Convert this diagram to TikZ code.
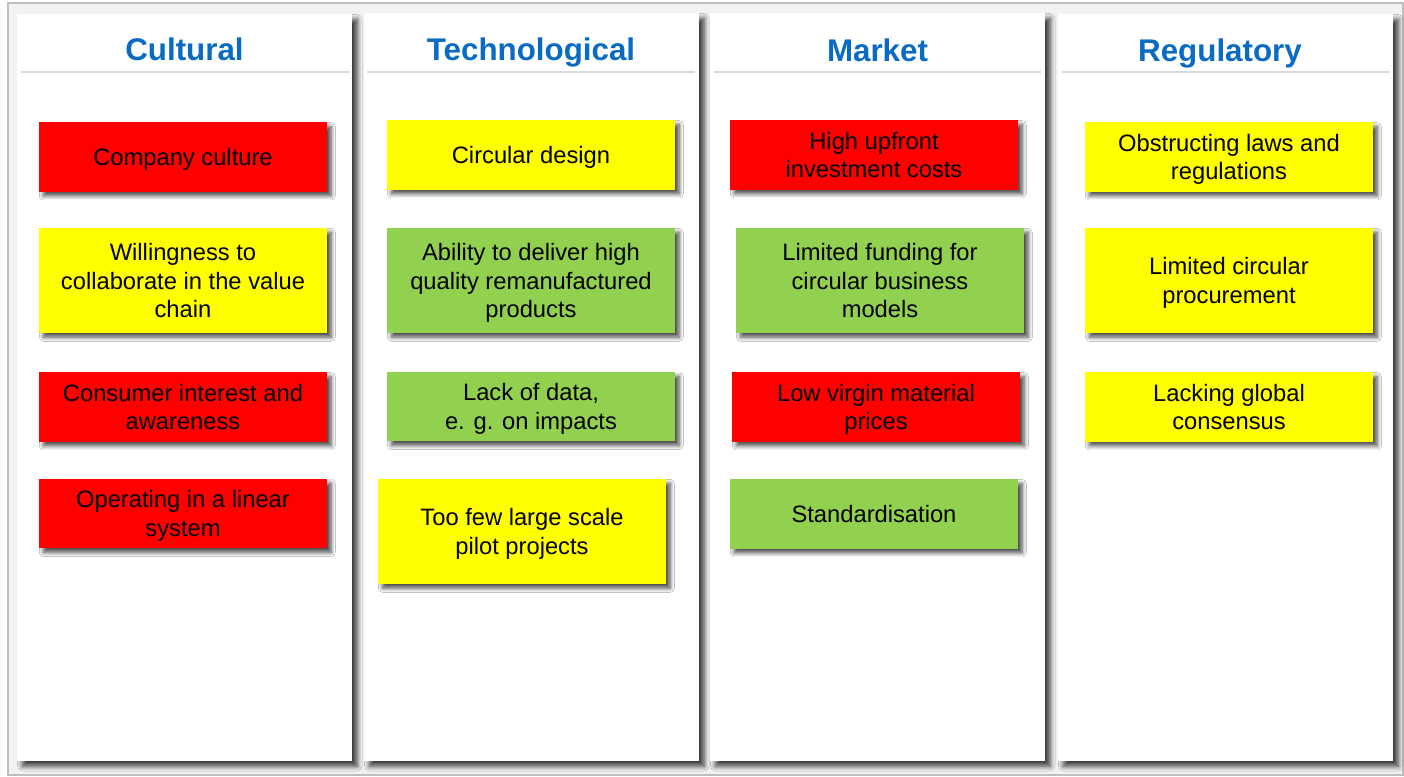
\documentclass[tikz,border=0pt]{standalone}
\usepackage{fontspec}
\setmainfont{Liberation Sans}
\usetikzlibrary{shadows.blur}
\definecolor{frameline}{HTML}{BFBFBF}
\definecolor{framebg}{HTML}{F2F2F2}
\definecolor{headblue}{HTML}{0A6BC2}
\definecolor{sepgray}{HTML}{D9D9D9}
\definecolor{cred}{HTML}{FF0000}
\definecolor{cyel}{HTML}{FFFF00}
\definecolor{cgrn}{HTML}{92D050}
\tikzset{
  panel/.style={fill=white, draw=none, blur shadow={shadow xshift=4pt, shadow yshift=-4pt, shadow blur steps=10, shadow blur radius=3.5pt, shadow opacity=75}},
  head/.style={text=headblue, font=\bfseries\fontsize{23.5pt}{28pt}\selectfont, anchor=base},
  sep/.style={draw=sepgray, line width=1.5pt},
  bx/.style={draw=none, minimum width=216pt, align=center, inner sep=0pt, text=black, text depth=0pt,
    font=\fontsize{17.8pt}{21.5pt}\selectfont,
    blur shadow={shadow xshift=3.2pt, shadow yshift=-3.2pt, shadow blur steps=8, shadow blur radius=3pt, shadow opacity=70}},
  sbox/.style={bx, minimum height=52pt},
  tbox/.style={bx, minimum height=78.75pt},
  rd/.style={fill=cred},
  yl/.style={fill=cyel},
  gn/.style={fill=cgrn}
}
\begin{document}
\begin{tikzpicture}[x=0.75pt, y=-0.75pt]
\useasboundingbox (0,0) rectangle (1404,776);
% outer frame
\fill[white] (0,0) rectangle (1404,776);
\draw[frameline, fill=framebg, line width=1.5pt] (8,3) rectangle (1403,775);
% panels
\path[panel] (17,14) rectangle (352,761);
\path[panel] (364,13) rectangle (699,761);
\path[panel] (710,13) rectangle (1045,761);
\path[panel] (1058,14) rectangle (1393,761);
% headers
\node[head] (h1) at (184.5,60) {Cultural};
\node[head] (h2) at (531,60) {Technological};
\node[head] (h3) at (877.5,61.5) {Market};
\node[head] (h4) at (1220,61.5) {Regulatory};
\draw[sep] (21,72) -- (349,72);
\draw[sep] (367,72) -- (695,72);
\draw[sep] (714,72) -- (1041,72);
\draw[sep] (1062,72) -- (1389,72);
% Cultural
\node[sbox, rd] (c1) at (183,157) {Company culture};
\node[tbox, yl] (c2) at (183,280.5) {Willingness to\\collaborate in the value\\chain};
\node[sbox, rd] (c3) at (183,407) {Consumer interest and\\awareness};
\node[sbox, rd] (c4) at (183,513.5) {Operating in a linear\\system};
% Technological
\node[sbox, yl] (t1) at (531,155) {Circular design};
\node[tbox, gn] (t2) at (531,280.5) {Ability to deliver high\\quality remanufactured\\products};
\node[sbox, gn] (t3) at (531,406.5) {Lack of data,\\e. g. on impacts};
\node[tbox, yl] (t4) at (522,531.5) {Too few large scale\\pilot projects};
% Market
\node[sbox, rd] (m1) at (874,155) {High upfront\\investment costs};
\node[tbox, gn] (m2) at (880,280.5) {Limited funding for\\circular business\\models};
\node[sbox, rd] (m3) at (876,407) {Low virgin material\\prices};
\node[sbox, gn] (m4) at (874,514) {Standardisation};
% Regulatory
\node[sbox, yl] (r1) at (1229,157) {Obstructing laws and\\regulations};
\node[tbox, yl] (r2) at (1229,280.5) {Limited circular\\procurement};
\node[sbox, yl] (r3) at (1229,407) {Lacking global\\consensus};
\end{tikzpicture}
\end{document}
